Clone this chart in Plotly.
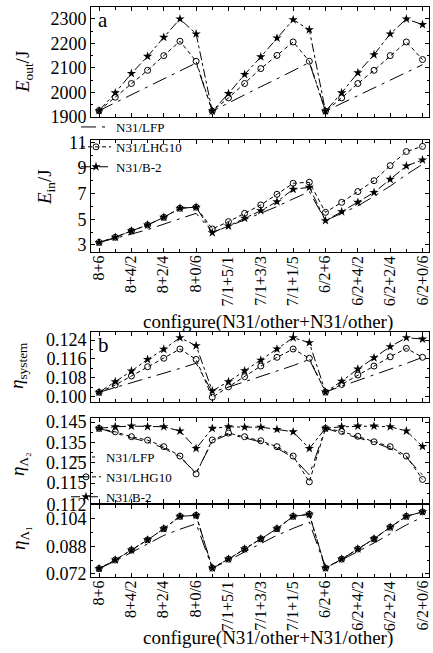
import plotly.graph_objects as go

categories = ["8+6", "8+5/1", "8+4/2", "8+3/3", "8+2/4", "8+1/5", "8+0/6",
              "7/1+6", "7/1+5/1", "7/1+4/2", "7/1+3/3", "7/1+2/4", "7/1+1/5", "7/1+0/6",
              "6/2+6", "6/2+5/1", "6/2+4/2", "6/2+3/3", "6/2+2/4", "6/2+1/5", "6/2+0/6"]
series_names = ["N31/LFP", "N31/LHG10", "N31/B-2"]

e_out_lfp = [1925, 1958, 1990, 2022, 2055, 2088, 2120, 1923, 1957, 1990, 2023, 2055, 2088, 2122, 1923, 1955, 1987, 2020, 2052, 2083, 2113]
e_out_lhg10 = [1925, 1980, 2036, 2090, 2150, 2209, 2127, 1923, 1977, 2036, 2097, 2151, 2206, 2127, 1923, 1977, 2036, 2090, 2150, 2206, 2134]
e_out_b2 = [1925, 1998, 2077, 2147, 2225, 2300, 2239, 1923, 1995, 2073, 2145, 2222, 2297, 2256, 1923, 1998, 2080, 2154, 2239, 2300, 2277]

e_in_lfp = [3.2, 3.5, 3.85, 4.2, 4.6, 5.05, 5.47, 4.0, 4.45, 4.95, 5.5, 6.0, 6.6, 7.17, 4.9, 5.5, 6.05, 6.8, 7.6, 8.5, 9.3]
e_in_lhg10 = [3.2, 3.6, 4.1, 4.56, 5.16, 5.87, 5.95, 4.25, 4.82, 5.47, 6.13, 6.96, 7.82, 7.9, 5.55, 6.33, 7.17, 8.02, 9.2, 10.3, 10.7]
e_in_b2 = [3.2, 3.6, 4.1, 4.56, 5.16, 5.87, 5.95, 3.96, 4.48, 5.09, 5.68, 6.38, 7.35, 7.5, 4.9, 5.6, 6.33, 7.1, 8.13, 9.17, 9.64]

eta_sys_lfp = [0.1019, 0.1039, 0.1058, 0.1078, 0.1099, 0.1120, 0.1142, 0.1020, 0.1041, 0.1063, 0.1085, 0.1108, 0.1132, 0.1158, 0.1020, 0.1045, 0.1068, 0.1092, 0.1117, 0.1141, 0.1167]
eta_sys_lhg10 = [0.1019, 0.1050, 0.1088, 0.1127, 0.1163, 0.1202, 0.1158, 0.0998, 0.1042, 0.1085, 0.1130, 0.1167, 0.1202, 0.1163, 0.1020, 0.1052, 0.1092, 0.1130, 0.1169, 0.1205, 0.1167]
eta_sys_b2 = [0.1019, 0.1064, 0.1109, 0.1158, 0.1201, 0.1250, 0.1216, 0.1025, 0.1064, 0.1110, 0.1155, 0.1202, 0.1250, 0.1229, 0.1020, 0.1066, 0.1117, 0.1165, 0.1212, 0.1250, 0.1244]

eta_l2_lfp = [0.1419, 0.1395, 0.1372, 0.1352, 0.1322, 0.1277, 0.1200, 0.1355, 0.1390, 0.1372, 0.1352, 0.1322, 0.1275, 0.1190, 0.1419, 0.1395, 0.1372, 0.1350, 0.1320, 0.1276, 0.1190]
eta_l2_lhg10 = [0.1419, 0.1402, 0.1378, 0.1361, 0.1329, 0.1283, 0.1195, 0.1362, 0.1396, 0.1378, 0.1358, 0.1329, 0.1283, 0.1156, 0.1419, 0.1404, 0.1380, 0.1353, 0.1329, 0.1283, 0.1168]
eta_l2_b2 = [0.1419, 0.1427, 0.1430, 0.1427, 0.1427, 0.1406, 0.1320, 0.1419, 0.1427, 0.1425, 0.1425, 0.1414, 0.1402, 0.1320, 0.1419, 0.1427, 0.1430, 0.1430, 0.1427, 0.1406, 0.1330]

eta_l1_lfp = [0.0751, 0.0795, 0.0845, 0.0895, 0.0944, 0.0980, 0.1012, 0.0754, 0.0798, 0.0848, 0.0895, 0.0945, 0.0985, 0.1022, 0.0754, 0.0800, 0.0850, 0.0900, 0.0955, 0.1005, 0.1051]
eta_l1_lhg10 = [0.0751, 0.0801, 0.0859, 0.0918, 0.0983, 0.1055, 0.1061, 0.0754, 0.0806, 0.0865, 0.0924, 0.0983, 0.1055, 0.1067, 0.0754, 0.0806, 0.0865, 0.0924, 0.0992, 0.1055, 0.1081]
eta_l1_b2 = [0.0751, 0.0801, 0.0859, 0.0918, 0.0983, 0.1055, 0.1061, 0.0754, 0.0806, 0.0865, 0.0924, 0.0983, 0.1055, 0.1067, 0.0754, 0.0806, 0.0865, 0.0924, 0.0992, 0.1055, 0.1081]

x_idx = list(range(len(categories)))
tick_idx = x_idx[::2]
tick_txt = [categories[i] for i in tick_idx]

FONT = "Times New Roman, Liberation Serif, serif"
W, H = 433, 653

styles = [
    dict(mode="lines", line=dict(color="black", width=1, dash="longdashdot")),
    dict(mode="lines+markers", line=dict(color="black", width=1, dash="4px,3px"),
         marker=dict(symbol="circle-open", size=6, color="black", line=dict(width=1))),
    dict(mode="lines+markers", line=dict(color="black", width=1, dash="dashdot"),
         marker=dict(symbol="star", size=7, color="black")),
]

panels = [
    ("", [e_out_lfp, e_out_lhg10, e_out_b2], "legend"),
    ("2", [e_in_lfp, e_in_lhg10, e_in_b2], None),
    ("3", [eta_sys_lfp, eta_sys_lhg10, eta_sys_b2], "legend2"),
    ("4", [eta_l2_lfp, eta_l2_lhg10, eta_l2_b2], None),
    ("5", [eta_l1_lfp, eta_l1_lhg10, eta_l1_b2], None),
]

fig = go.Figure()
for suffix, ys, leg in panels:
    for name, yv, st in zip(series_names, ys, styles):
        fig.add_trace(go.Scatter(x=x_idx, y=yv, name=name, xaxis="x" + suffix, yaxis="y" + suffix,
                                 showlegend=leg is not None, legend=leg if leg else "legend", **st))

def py(px):
    return 1 - px / H

def pxx(px):
    return px / W

xdom = [pxx(91), pxx(429)]
ydoms = {
    "": [py(117), py(7)],
    "2": [py(252), py(140)],
    "3": [py(402), py(332)],
    "4": [py(503), py(418)],
    "5": [py(577), py(505)],
}
yranges = {
    "": [1899, 2349],
    "2": [2.45, 11.2],
    "3": [0.0978, 0.1274],
    "4": [0.1052, 0.147],
    "5": [0.0702, 0.1121],
}
yticks = {
    "": [1900, 2000, 2100, 2200, 2300],
    "2": [3, 5, 7, 9, 11],
    "3": [0.100, 0.108, 0.116, 0.124],
    "4": [0.115, 0.125, 0.135, 0.145],
    "5": [0.072, 0.088, 0.104, 0.112],
}
ytickfmt = {"": "d", "2": "d", "3": ".3f", "4": ".3f", "5": ".3f"}
yminor = {"": 50, "2": 1, "3": 0.004, "4": 0.005, "5": 0.008}
# x tick labels drawn under these axes (axis suffix, top of labels in px)
xlabel_axes = [("2", 255), ("5", 580)]

# y-axis titles: (text, x px, y px)
ytitles = [
    ("<i>E</i><sub>out</sub>/J", 24, 72),
    ("<i>E</i><sub>in</sub>/J", 46, 187),
    ("<i>η</i><sub>system</sub>", 18, 366),
    ("<i>η</i><sub>Λ₂</sub>", 19, 464),
    ("<i>η</i><sub>Λ₁</sub>", 20, 538),
]
xtitle_text = "configure(N31/other+N31/other)"
xtitle_pos = [(268, 322), (268, 638)]

axis_common = dict(showline=True, linecolor="black", linewidth=1, mirror="ticks",
                   ticks="inside", ticklen=4, tickcolor="black", showgrid=False, zeroline=False,
                   automargin=False)

layout = dict(template="none", width=W, height=H, margin=dict(l=0, r=0, t=0, b=0, pad=0),
              paper_bgcolor="white", plot_bgcolor="rgba(0,0,0,0)",
              font=dict(family=FONT, color="black"))

for suffix in ["", "2", "3", "4", "5"]:
    xa = dict(axis_common)
    xa.update(domain=xdom, anchor="y" + suffix, range=[-0.5, 20.4],
              tickmode="array", tickvals=tick_idx, ticktext=tick_txt,
              showticklabels=False,
              minor=dict(ticks="inside", ticklen=3, tickcolor="black", dtick=1, tick0=0))
    ya = dict(axis_common)
    ya.update(domain=ydoms[suffix], anchor="x" + suffix, range=yranges[suffix],
              tickmode="array", tickvals=yticks[suffix], tickformat=ytickfmt[suffix],
              tickfont=dict(family=FONT, size=18, color="black"),
              minor=dict(ticks="inside", ticklen=2, tickcolor="black", dtick=yminor[suffix],
                         tick0=yticks[suffix][0]))
    layout["xaxis" + suffix] = xa
    layout["yaxis" + suffix] = ya

layout["legend"] = dict(x=pxx(76), y=py(112), xanchor="left", yanchor="top",
                        bgcolor="rgba(0,0,0,0)", font=dict(family=FONT, size=13, color="black"),
                        tracegroupgap=0, itemwidth=30)
layout["legend2"] = dict(x=pxx(66), y=py(442), xanchor="left", yanchor="top",
                         bgcolor="rgba(0,0,0,0)", font=dict(family=FONT, size=13, color="black"),
                         tracegroupgap=0, itemwidth=30)

annotations = [
    dict(text="a", x=pxx(96), y=py(6), xanchor="left", yanchor="top", size=21),
    dict(text="b", x=pxx(96), y=py(331), xanchor="left", yanchor="top", size=21),
]
for t, x, y in ytitles:
    annotations.append(dict(text=t, x=pxx(x), y=py(y), xanchor="center", yanchor="middle",
                            textangle=-90, size=19))
for x, y in xtitle_pos:
    annotations.append(dict(text=xtitle_text, x=pxx(x), y=py(y), xanchor="center", yanchor="middle",
                            size=19))
for a in annotations:
    size = a.pop("size")
    a.update(xref="paper", yref="paper", showarrow=False,
             font=dict(family=FONT, size=size, color="black"))
# rotated category tick labels placed on the x axes' own scale
for suffix, ytop in xlabel_axes:
    for i, txt in zip(tick_idx, tick_txt):
        annotations.append(dict(text=txt, x=i, xref="x" + suffix, y=py(ytop), yref="paper",
                                xanchor="center", yanchor="top", textangle=-90, showarrow=False,
                                xshift=-1, borderpad=0,
                                font=dict(family=FONT, size=16, color="black")))
layout["annotations"] = annotations

fig.update_layout(**layout)
fig.write_html("out.html", config={"displayModeBar": False},
               post_script="document.body.style.margin='0';document.body.style.overflow='hidden';")
